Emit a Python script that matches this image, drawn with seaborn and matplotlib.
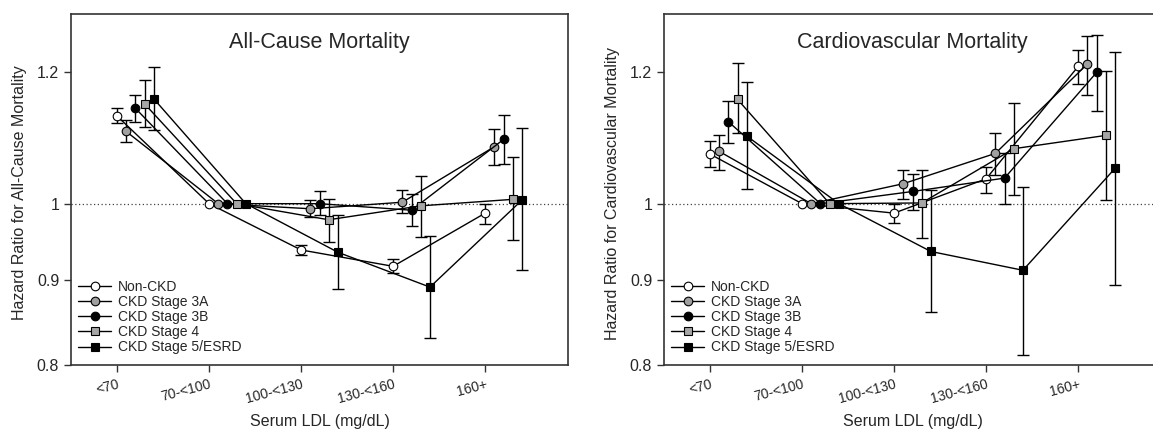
import numpy as np
import pandas as pd
import matplotlib
matplotlib.use("Agg")
import matplotlib.pyplot as plt
import seaborn as sns
from matplotlib.lines import Line2D
from matplotlib.ticker import NullLocator

nan = np.nan

categories = ["<70", "70-<100", "100-<130", "130-<160", "160+"]
groups = ["Non-CKD", "CKD Stage 3A", "CKD Stage 3B", "CKD Stage 4", "CKD Stage 5/ESRD"]

# ---------------- All-cause mortality (HR, lower CI, upper CI) ----------------
ac_non_hr = [1.129, 1.0, 0.938, 0.917, 0.987]
ac_non_lo = [1.118, nan, 0.932, 0.909, 0.972]
ac_non_hi = [1.141, nan, 0.945, 0.926, 1.000]

ac_3a_hr = [1.105, 1.0, 0.993, 1.002, 1.082]
ac_3a_lo = [1.089, nan, 0.982, 0.987, 1.055]
ac_3a_hi = [1.122, nan, 1.005, 1.019, 1.109]

ac_3b_hr = [1.141, 1.0, 1.000, 0.991, 1.093]
ac_3b_lo = [1.120, nan, 0.984, 0.970, 1.056]
ac_3b_hi = [1.162, nan, 1.017, 1.013, 1.130]

ac_4_hr = [1.148, 1.0, 0.978, 0.997, 1.006]
ac_4_lo = [1.112, nan, 0.948, 0.955, 0.951]
ac_4_hi = [1.186, nan, 1.007, 1.039, 1.067]

ac_5_hr = [1.156, 1.0, 0.935, 0.891, 1.005]
ac_5_lo = [1.107, nan, 0.889, 0.831, 0.912]
ac_5_hi = [1.208, nan, 0.985, 0.956, 1.110]

# ---------------- Cardiovascular mortality ----------------
cv_non_hr = [1.071, 1.0, 0.987, 1.035, 1.209]
cv_non_lo = [1.052, nan, 0.973, 1.015, 1.180]
cv_non_hi = [1.091, nan, 1.000, 1.052, 1.237]

cv_3a_hr = [1.075, 1.0, 1.028, 1.072, 1.213]
cv_3a_lo = [1.047, nan, 1.006, 1.041, 1.162]
cv_3a_hi = [1.100, nan, 1.048, 1.102, 1.261]

cv_3b_hr = [1.120, 1.0, 1.017, 1.036, 1.199]
cv_3b_lo = [1.087, nan, 0.991, 1.000, 1.137]
cv_3b_hi = [1.152, nan, 1.042, 1.073, 1.262]

cv_4_hr = [1.155, 1.0, 1.001, 1.079, 1.099]
cv_4_lo = [1.102, nan, 0.954, 1.012, 1.005]
cv_4_hi = [1.215, nan, 1.048, 1.149, 1.202]

cv_5_hr = [1.098, 1.0, 0.936, 0.912, 1.050]
cv_5_lo = [1.020, nan, 0.861, 0.811, 0.893]
cv_5_hi = [1.184, nan, 1.019, 1.024, 1.233]

yticks = [0.8, 0.9, 1.0, 1.2]
ytick_labels = ["0.8", "0.9", "1", "1.2"]

panels = [
    ("All-Cause Mortality", "Hazard Ratio for All-Cause Mortality",
     [(ac_non_hr, ac_non_lo, ac_non_hi), (ac_3a_hr, ac_3a_lo, ac_3a_hi),
      (ac_3b_hr, ac_3b_lo, ac_3b_hi), (ac_4_hr, ac_4_lo, ac_4_hi),
      (ac_5_hr, ac_5_lo, ac_5_hi)]),
    ("Cardiovascular Mortality", "Hazard Ratio for Cardiovascular Mortality",
     [(cv_non_hr, cv_non_lo, cv_non_hi), (cv_3a_hr, cv_3a_lo, cv_3a_hi),
      (cv_3b_hr, cv_3b_lo, cv_3b_hi), (cv_4_hr, cv_4_lo, cv_4_hi),
      (cv_5_hr, cv_5_lo, cv_5_hi)]),
]

# styles
markers = ["o", "o", "o", "s", "s"]
facecolors = ["white", "#a0a0a0", "black", "#a6a6a6", "black"]
msizes = [6.2, 6.2, 6.2, 6.0, 6.4]
offsets = [0.0, 0.1, 0.2, 0.3, 0.4]

sns.set_style("ticks")
plt.rcParams["font.family"] = ["Liberation Sans", "DejaVu Sans"]

W, H = 1153, 437
fig = plt.figure(figsize=(W / 100, H / 100), dpi=100)

axes_px = [(71, 14, 497, 351), (664, 14, 497, 351)]

for (title, ylabel, series), (lx, ty, w, h) in zip(panels, axes_px):
    ax = fig.add_axes([lx / W, (H - ty - h) / H, w / W, h / H])
    ax.axhline(1.0, ls=(0, (1, 2)), color="#444444", lw=0.9, zorder=0.5)

    for gi, (hr, lo, hi) in enumerate(series):
        x = np.arange(len(categories)) + offsets[gi]
        hr_a = np.array(hr, dtype=float)
        lo_a = np.array(lo, dtype=float)
        hi_a = np.array(hi, dtype=float)
        df = pd.DataFrame({"x": x, "hr": hr_a})
        ok = ~np.isnan(lo_a)
        ax.errorbar(x[ok], hr_a[ok], yerr=[hr_a[ok] - lo_a[ok], hi_a[ok] - hr_a[ok]],
                    fmt="none", ecolor="black", elinewidth=1.0, capsize=4.5,
                    capthick=1.0, zorder=2)
        sns.lineplot(data=df, x="x", y="hr", ax=ax, color="black", lw=1.0,
                     marker=markers[gi], markersize=msizes[gi],
                     markerfacecolor=facecolors[gi], markeredgecolor="black",
                     markeredgewidth=0.8, legend=False, zorder=3 + gi * 0.1)

    ax.set_yscale("log")
    ax.set_ylim(0.8, 1.30)
    ax.set_xlim(-0.5, 4.9)
    ax.yaxis.set_minor_locator(NullLocator())
    ax.set_yticks(yticks)
    ax.set_yticklabels(ytick_labels, fontsize=11.5)
    ax.set_xticks(np.arange(len(categories)))
    ax.set_xticklabels(categories, fontsize=10, rotation=15, ha="right",
                       rotation_mode="anchor")
    ax.tick_params(axis="both", direction="out", length=5, width=1.0,
                   color="#333333", top=False, right=False)
    ax.tick_params(axis="x", pad=4)
    for sp in ax.spines.values():
        sp.set_linewidth(1.2)
        sp.set_color("#333333")
        sp.set_visible(True)

    ax.set_xlabel("Serum LDL (mg/dL)", fontsize=11.5, va="center")
    ax.xaxis.set_label_coords(0.5, -0.162)
    ax.set_ylabel(ylabel, fontsize=11.5, va="center")
    ax.yaxis.set_label_coords(-0.103, 0.49)

    ax.text(0.5, 0.918, title, transform=ax.transAxes, ha="center",
            va="center", fontsize=15.5)

    handles = [Line2D([0], [0], color="black", lw=1.0, marker=markers[i],
                      markersize=msizes[i], markerfacecolor=facecolors[i],
                      markeredgecolor="black", markeredgewidth=0.8)
               for i in range(len(groups))]
    ax.legend(handles, groups, loc="lower left", bbox_to_anchor=(0.014, 0.03),
              frameon=False, fontsize=10, handlelength=2.4, handletextpad=0.45,
              labelspacing=0.08, borderpad=0, borderaxespad=0)

fig.savefig("out.png", dpi=100)
